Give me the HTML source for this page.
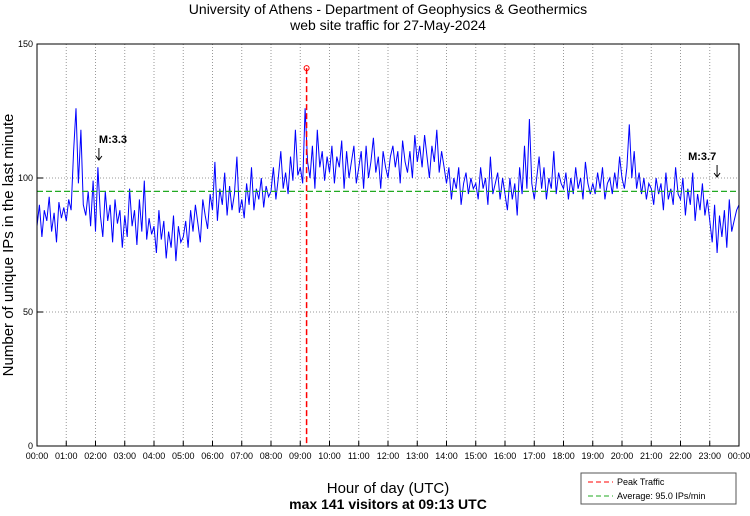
<!DOCTYPE html>
<html><head><meta charset="utf-8"><style>
body{margin:0;background:#fff;}
svg text{font-family:"Liberation Sans",sans-serif;}
</style></head><body>
<svg id="c" width="750" height="511" viewBox="0 0 750 511">
<rect width="750" height="511" fill="#fff"/>
<text x="388" y="14" font-size="14" text-anchor="middle">University of Athens - Department of Geophysics &amp; Geothermics</text>
<text x="388" y="30" font-size="14" text-anchor="middle">web site traffic for 27-May-2024</text>
<g id="grid"></g>
<g id="series"></g>
<rect x="37" y="44" width="702" height="402" fill="none" stroke="#000" stroke-width="1"/>
<g id="ticks"></g>
<text x="388" y="493" font-size="15" text-anchor="middle">Hour of day (UTC)</text>
<text x="388" y="509" font-size="14" font-weight="bold" text-anchor="middle">max 141 visitors at 09:13 UTC</text>
<text transform="translate(13,245) rotate(-90)" font-size="15" text-anchor="middle">Number of unique IPs in the last minute</text>
<g>
<rect x="581" y="473" width="155" height="31" fill="#fff" stroke="#555"/>
<line x1="588" y1="482" x2="613" y2="482" stroke="#f00" stroke-dasharray="5,3"/>
<text x="617" y="485" font-size="9">Peak Traffic</text>
<line x1="588" y1="496" x2="613" y2="496" stroke="#2a2" stroke-dasharray="5,3"/>
<text x="617" y="499" font-size="9">Average: 95.0 IPs/min</text>
</g>
<g id="ann"></g>
</svg>
<script>
const values=[
82,90,78,88,84,93,80,87,76,91,85,89,
84,92,88,110,126,98,118,90,86,95,82,99,
80,104,86,78,95,84,90,76,92,83,88,74,
86,78,96,82,88,75,92,80,99,77,85,79,
82,72,88,77,84,70,80,74,86,69,82,76,
78,84,74,88,80,90,83,76,92,86,81,94,
88,106,84,96,90,102,86,97,88,94,108,87,
92,85,98,90,104,88,96,92,100,89,97,93,
95,104,92,100,110,96,102,94,108,99,118,101,
104,98,126,106,100,112,96,118,104,110,99,108,
102,112,98,108,104,114,96,110,100,106,112,98,
104,110,96,112,100,106,115,102,108,96,110,104,
100,108,112,104,110,98,114,106,102,110,100,116,
106,112,104,116,108,100,112,106,118,102,110,104,
98,104,92,100,96,104,90,98,102,94,100,96,
98,92,104,96,100,90,108,94,98,102,92,100,
94,88,100,92,98,86,104,94,112,96,122,98,
92,100,108,96,104,92,100,96,110,94,102,98,
96,102,92,100,94,104,96,100,92,106,98,94,
98,94,102,96,104,92,98,100,94,102,96,108,
100,96,104,120,100,110,96,102,94,100,92,98,
96,90,100,94,98,88,102,92,96,90,104,94,
92,100,86,96,90,102,84,94,88,98,86,92,
84,76,90,72,86,78,88,74,92,80,84,88,90];
const stepMinutes=5;
const yTicks=[0,50,100,150];
const hourLabels=["00:00","01:00","02:00","03:00","04:00","05:00","06:00","07:00","08:00","09:00","10:00","11:00","12:00","13:00","14:00","15:00","16:00","17:00","18:00","19:00","20:00","21:00","22:00","23:00","00:00"];
const peakMinute=553, peakValue=141, average=95.0;
const quakeMinutes=[127,1395];
const quakeLabels=["M:3.3","M:3.7"];

const L=37,R=739,T=44,B=446,yMax=150;
const xs=m=>L+(R-L)*m/1440;
const ys=v=>B-(B-T)*v/yMax;
const NS="http://www.w3.org/2000/svg";
function mk(tag,attrs,parent){const e=document.createElementNS(NS,tag);for(const k in attrs)e.setAttribute(k,attrs[k]);parent.appendChild(e);return e;}
const grid=document.getElementById('grid'),ticks=document.getElementById('ticks'),series=document.getElementById('series'),ann=document.getElementById('ann');
hourLabels.forEach((lab,i)=>{
 const x=xs(i*60);
 if(i>0&&i<24){const g=mk('line',{x1:x,y1:T,x2:x,y2:B,stroke:'#999','stroke-dasharray':'1,2'},grid);
 
 }
 const t=mk('line',{x1:x,y1:B,x2:x,y2:B-5,stroke:'#000'},ticks);
 
 
 const tx=mk('text',{x:x,y:B+13,'font-size':9,'text-anchor':'middle'},ticks);tx.textContent=lab;
 
 
});
yTicks.forEach(v=>{
 const y=ys(v);
 if(v>0&&v<yMax){const g=mk('line',{x1:L,y1:y,x2:R,y2:y,stroke:'#999','stroke-dasharray':'1,2'},grid);
 
 }
 const t=mk('line',{x1:L,y1:y,x2:L+6,y2:y,stroke:'#000'},ticks);
 
 
 const tx=mk('text',{x:L-4,y:y+3,'font-size':9,'text-anchor':'end'},ticks);tx.textContent=v;
 
 
});
const pts=values.map((v,i)=>xs(i*stepMinutes).toFixed(1)+','+ys(v).toFixed(1)).join(' ');
const line=mk('polyline',{points:pts,fill:'none',stroke:'#0000ff','stroke-width':1},series);


const av=mk('line',{x1:L,y1:ys(average),x2:R,y2:ys(average),stroke:'#2a2','stroke-dasharray':'6,3','stroke-width':1.2},series);


const pk=mk('line',{x1:xs(peakMinute),y1:ys(peakValue),x2:xs(peakMinute),y2:B,stroke:'#f00','stroke-dasharray':'6,3','stroke-width':1.5},series);


const pc=mk('circle',{cx:xs(peakMinute),cy:ys(peakValue),r:2.5,fill:'none',stroke:'#f00'},series);


quakeMinutes.forEach((m,i)=>{
 const x=xs(m);const yb=i===0?160:177;
 const t=mk('text',{x:i===0?x:x-29,y:yb-17,'font-size':11,'font-weight':'bold'},ann);t.textContent=quakeLabels[i];
 
 
 const a=mk('line',{x1:x,y1:yb-12,x2:x,y2:yb,stroke:'#000'},ann);
 
 
 const h=mk('path',{d:`M${x-3},${yb-4} L${x},${yb} L${x+3},${yb-4}`,fill:'none',stroke:'#000'},ann);
 
 
});
</script>
</body></html>
